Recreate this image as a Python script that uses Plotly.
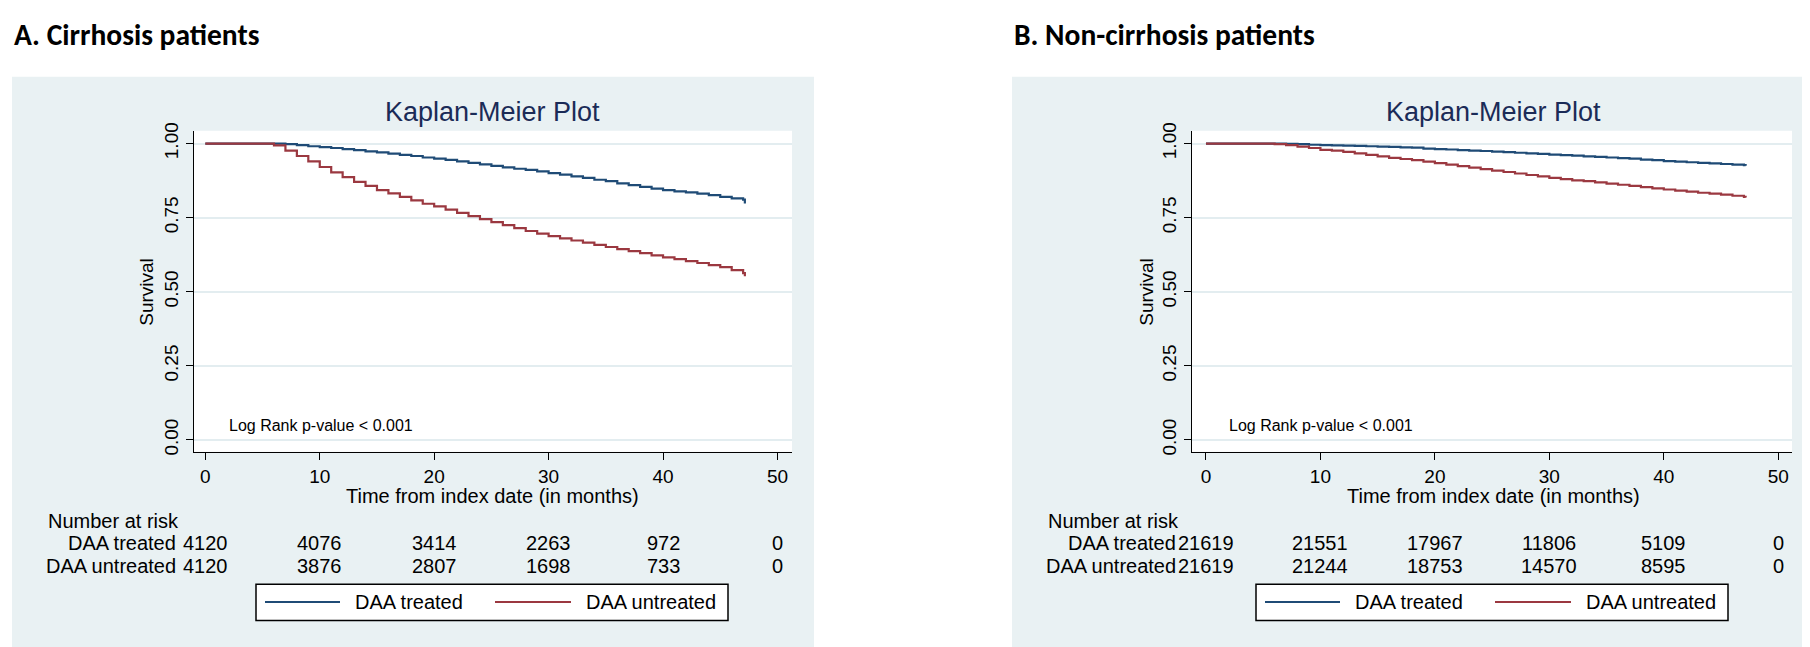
import plotly.graph_objects as go

W, H = 1810, 647

# survival curves (months, survival)
months = [0, 6, 7, 8, 9, 10, 11, 12, 13, 14, 15, 16, 17, 18, 19, 20, 21, 22, 23, 24, 25, 26,
          27, 28, 29, 30, 31, 32, 33, 34, 35, 36, 37, 38, 39, 40, 41, 42, 43, 44, 45, 46, 47, 47.15]

treated_a = [1.0, 1.0, 0.998, 0.995, 0.991, 0.988, 0.985, 0.981, 0.978, 0.974, 0.970, 0.966,
             0.962, 0.958, 0.953, 0.949, 0.945, 0.940, 0.935, 0.930, 0.925, 0.920, 0.915, 0.911,
             0.906, 0.900, 0.895, 0.889, 0.884, 0.878, 0.873, 0.866, 0.860, 0.854, 0.848, 0.843,
             0.839, 0.835, 0.831, 0.826, 0.820, 0.815, 0.811, 0.798]
untreated_a = [1.0, 0.994, 0.976, 0.958, 0.940, 0.921, 0.903, 0.887, 0.871, 0.857, 0.843, 0.832,
               0.820, 0.808, 0.797, 0.788, 0.777, 0.766, 0.755, 0.745, 0.735, 0.725, 0.715, 0.705,
               0.696, 0.688, 0.680, 0.673, 0.666, 0.658, 0.651, 0.644, 0.637, 0.630, 0.623, 0.616,
               0.610, 0.603, 0.597, 0.590, 0.583, 0.573, 0.563, 0.552]

treated_b = [1.0, 1.0, 0.999, 0.998, 0.996, 0.995, 0.994, 0.993, 0.992, 0.991, 0.990, 0.989,
             0.987, 0.986, 0.983, 0.981, 0.980, 0.978, 0.976, 0.975, 0.973, 0.971, 0.969, 0.967,
             0.965, 0.963, 0.961, 0.959, 0.957, 0.955, 0.953, 0.951, 0.949, 0.946, 0.944, 0.941,
             0.939, 0.937, 0.935, 0.933, 0.931, 0.929, 0.927, 0.925]
untreated_b = [1.0, 0.998, 0.995, 0.990, 0.985, 0.979, 0.976, 0.972, 0.967, 0.962, 0.957, 0.952,
               0.948, 0.944, 0.939, 0.934, 0.929, 0.924, 0.919, 0.914, 0.909, 0.904, 0.899, 0.894,
               0.889, 0.884, 0.880, 0.876, 0.873, 0.869, 0.865, 0.861, 0.857, 0.853, 0.849, 0.845,
               0.841, 0.838, 0.834, 0.831, 0.828, 0.824, 0.820, 0.818]

# number at risk table
risk_times = [0, 10, 20, 30, 40, 50]
risk_treated_a = [4120, 4076, 3414, 2263, 972, 0]
risk_untreated_a = [4120, 3876, 2807, 1698, 733, 0]
risk_treated_b = [21619, 21551, 17967, 11806, 5109, 0]
risk_untreated_b = [21619, 21244, 18753, 14570, 8595, 0]

groups = ["DAA treated", "DAA untreated"]
panel_titles = ["A. Cirrhosis patients", "B. Non-cirrhosis patients"]

BLUE = "#1f4b76"
RED = "#9b3840"
BG = "#e9f1f3"
FONT = "Liberation Sans, Arial, sans-serif"


def px(x):
    return x / W


def py(y):
    return 1 - y / H


fig = go.Figure()

panels = [
    dict(off=0, xa="x", ya="y", dom=[186, 784], rng=[-0.99, 51.27],
         t=treated_a, u=untreated_a, rt=risk_treated_a, ru=risk_untreated_a),
    dict(off=1000, xa="x2", ya="y2", dom=[1184, 1784], rng=[-1.22, 51.2],
         t=treated_b, u=untreated_b, rt=risk_treated_b, ru=risk_untreated_b),
]

shapes = []
ann = []
for i, p in enumerate(panels):
    o = p["off"]
    fig.add_trace(go.Scatter(x=months, y=p["t"], mode="lines", line_shape="hv",
                             line=dict(color=BLUE, width=2.2), name=groups[0],
                             xaxis=p["xa"], yaxis=p["ya"], showlegend=False))
    fig.add_trace(go.Scatter(x=months, y=p["u"], mode="lines", line_shape="hv",
                             line=dict(color=RED, width=2.2), name=groups[1],
                             xaxis=p["xa"], yaxis=p["ya"], showlegend=False))

    sfx = "" if i == 0 else "2"
    ax = dict(domain=[px(p["dom"][0]), px(p["dom"][1])], range=p["rng"],
              tickvals=risk_times, showgrid=False, zeroline=False,
              showline=True, linecolor="black", linewidth=1.3,
              ticks="outside", ticklen=7, tickwidth=1.3, tickcolor="black",
              tickfont=dict(family=FONT, size=19, color="black"),
              anchor="y" + sfx)
    ay = dict(domain=[py(444), py(117)], range=[-0.04, 1.043],
              tickvals=[0, 0.25, 0.5, 0.75, 1.0], ticktext=["0.00", "0.25", "0.50", "0.75", "1.00"],
              tickangle=-90, showgrid=True, gridcolor="#e3edf0", gridwidth=2, zeroline=False,
              showline=True, linecolor="black", linewidth=1.3,
              ticks="outside", ticklen=7, tickwidth=1.3, tickcolor="black",
              tickfont=dict(family=FONT, size=19, color="black"),
              anchor="x" + sfx)
    fig.update_layout({"xaxis" + sfx: ax, "yaxis" + sfx: ay})

    # panel background and white plot region
    shapes.append(dict(type="rect", xref="paper", yref="paper", layer="below",
                       x0=px(4 + o), x1=px(806 + o), y0=py(643), y1=py(62),
                       fillcolor=BG, line_width=0))
    shapes.append(dict(type="rect", xref="paper", yref="paper", layer="below",
                       x0=px(p["dom"][0]), x1=px(p["dom"][1]), y0=py(444), y1=py(117),
                       fillcolor="white", line_width=0))

    ann.append(dict(text="<b>" + panel_titles[i] + "</b>", x=px(4 + o), y=py(19),
                    xanchor="left", yanchor="middle",
                    font=dict(family="Carlito, Lato, Open Sans, sans-serif", size=29.5,
                              color="black")))
    ann.append(dict(text="Kaplan-Meier Plot", x=px(485 + o), y=py(98), xanchor="center",
                    yanchor="middle", font=dict(family=FONT, size=27, color="#1b2b57")))
    ann.append(dict(text="Log Rank p-value < 0.001", x=px(219 + o), y=py(417), xanchor="left",
                    yanchor="middle", font=dict(family=FONT, size=16, color="black")))
    ann.append(dict(text="Survival", x=px(139 + o), y=py(281), textangle=-90,
                    xanchor="center", yanchor="middle",
                    font=dict(family=FONT, size=19, color="black")))
    ann.append(dict(text="Time from index date (in months)", x=px(485 + o), y=py(489),
                    xanchor="center", yanchor="middle",
                    font=dict(family=FONT, size=20, color="black")))
    ann.append(dict(text="Number at risk", x=px(38 + o), y=py(515), xanchor="left",
                    yanchor="middle", font=dict(family=FONT, size=20, color="black")))
    for g, row, yy in [(groups[0], p["rt"], 537), (groups[1], p["ru"], 560)]:
        ann.append(dict(text=g, x=px(170 + o), y=py(yy), xanchor="right", yanchor="middle",
                        font=dict(family=FONT, size=20, color="black")))
        for t, n in zip(risk_times, row):
            ann.append(dict(text=str(n), x=t, xref=p["xa"], y=py(yy), xanchor="center",
                            yanchor="middle", font=dict(family=FONT, size=20, color="black")))

    # legend box
    shapes.append(dict(type="rect", xref="paper", yref="paper",
                       x0=px(248 + o), x1=px(720 + o), y0=py(616), y1=py(579),
                       fillcolor="white", line=dict(color="black", width=1.5)))
    for (x0, x1, c) in [(257, 332, BLUE), (487, 563, RED)]:
        shapes.append(dict(type="line", xref="paper", yref="paper",
                           x0=px(x0 + o), x1=px(x1 + o), y0=py(597), y1=py(597),
                           line=dict(color=c, width=2)))
    for (xl, g) in [(345, groups[0]), (576, groups[1])]:
        ann.append(dict(text=g, x=px(xl + o), y=py(597), xanchor="left", yanchor="middle",
                        font=dict(family=FONT, size=20, color="black")))

for a in ann:
    a.setdefault("xref", "paper")
    a.setdefault("yref", "paper")
    a["showarrow"] = False

fig.update_layout(width=W, height=H, margin=dict(l=0, r=0, t=0, b=0),
                  paper_bgcolor="white", plot_bgcolor="white",
                  shapes=shapes, annotations=ann, showlegend=False)

fig.write_html("out.html")
